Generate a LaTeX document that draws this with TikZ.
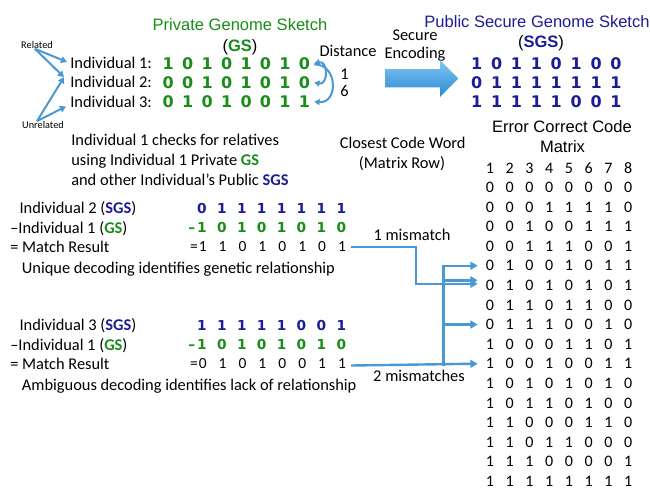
\documentclass[tikz,border=0pt]{standalone}
\usepackage{fontspec}
\setmainfont{Carlito}
\newfontfamily\arialfont{Liberation Sans}
\newfontfamily\bitfont{DejaVu Sans}
\usetikzlibrary{arrows.meta,calc}

\definecolor{gsgreen}{RGB}{25,140,25}
\definecolor{sgsblue}{RGB}{28,28,150}
\definecolor{linkblue}{RGB}{74,152,212}

\tikzset{
  lbl/.style={inner sep=0pt, font=\fontsize{12.3}{15}\selectfont},
  head/.style={inner sep=0pt, font=\arialfont\fontsize{12.4}{15}\selectfont},
  tiny/.style={inner sep=0pt, font=\fontsize{7.7}{9}\selectfont},
  bigbit/.style={inner sep=0pt, font=\bitfont\bfseries\fontsize{12}{14}\selectfont},
  smallbit/.style={inner sep=0pt, font=\bitfont\bfseries\fontsize{10.3}{12}\selectfont},
  cell/.style={inner sep=0pt, font=\fontsize{12}{14}\selectfont},
  resbit/.style={inner sep=0pt, font=\fontsize{11.6}{13}\selectfont},
  link/.style={draw=linkblue, line width=1.8pt, -{Triangle[length=5.5pt,width=6pt]}},
  pointer/.style={draw=linkblue, line width=1.5pt, -{Triangle[length=4.5pt,width=5pt]}},
}

\begin{document}
\begin{tikzpicture}[x=0.75pt,y=-0.75pt]
\useasboundingbox (0,0) rectangle (650,489);

% private sketch
\node[head, anchor=base, text=gsgreen] (gs-title) at (240,31) {Private Genome Sketch};
\node[head, anchor=base] (gs-tag) at (240,51) {(\textcolor{gsgreen}{\textbf{GS}})};
\foreach \bits [count=\k] in {{1,0,1,0,1,0,1,0},{0,0,1,0,1,0,1,0},{0,1,0,1,0,0,1,1}} {
  \node[lbl, anchor=base west] (ind\k) at (70,{68.6+19.2*(\k-1)}) {Individual \k:};
  \foreach \b [count=\j] in \bits
    \node[bigbit, text=gsgreen] (g\k-\j) at ({168.3+19.45*(\j-1)},{63.3+19.2*(\k-1)}) {\b};
}

\node[tiny] (rel) at (37,45) {Related};
\node[tiny] (unrel) at (43,125) {Unrelated};
\draw[pointer] ($(rel.south)+(-2,0)$) -- ($(ind1.west)+(-3,-1)$);
\draw[pointer] ($(rel.south)+(-2,0)$) -- ($(ind2.north west)+(-6,1)$);
\draw[pointer] ($(unrel.north)+(-6,0)$) -- ($(ind2.north west)+(-6,1)$);
\draw[pointer] ($(unrel.north)+(-6,0)$) -- ($(ind3.south west)+(-4,-1)$);

% distances
\node[lbl, anchor=base] (dist) at (348,56.3) {Distance};
\node[lbl, anchor=base west] (d12) at (340,79.3) {1};
\node[lbl, anchor=base west] (d13) at (340,96) {6};
\draw[pointer, {Triangle[length=4pt,width=4.5pt]}-{Triangle[length=4pt,width=4.5pt]}]
  ($(g1-8.east)+(4,0)$) .. controls +(14,-3) and +(14,3) .. ($(g2-8.east)+(4,0)$);
\draw[pointer, -{Triangle[length=4pt,width=4.5pt]}]
  ($(g1-8.east)+(4,1)$) .. controls +(24,0) and +(24,2) .. ($(g3-8.east)+(4,0)$);

% encoding
\node[lbl, anchor=base] (sec) at (415,40.3) {Secure};
\node[lbl, anchor=base] (enc) at (415,58.6) {Encoding};
\shade[top color={rgb,255:red,135;green,198;blue,242}, bottom color={rgb,255:red,38;green,136;blue,212}]
  (385,69) -- (440,69) -- (440,60) -- (458.3,78.5) -- (440,97) -- (440,87.3) -- (385,87.3) -- cycle;

% public sketch
\node[head, anchor=base, text=sgsblue] (sgs-title) at (537,27.6) {Public Secure Genome Sketch};
\node[head, anchor=base] (sgs-tag) at (541,47.6) {(\textcolor{sgsblue}{\textbf{SGS}})};
\foreach \bits [count=\k] in {{1,0,1,1,0,1,0,0},{0,1,1,1,1,1,1,1},{1,1,1,1,1,0,0,1}}
  \foreach \b [count=\j] in \bits
    \node[bigbit, text=sgsblue] (s\k-\j) at ({476.7+19.9*(\j-1)},{63.3+19.2*(\k-1)}) {\b};

% code matrix
\node[head, anchor=base] (ecc) at (562,132.6) {Error Correct Code};
\node[head, anchor=base] (ecc2) at (562.5,152) {Matrix};
\foreach \j in {1,...,8}
  \node[cell] (h-\j) at ({490+19.75*(\j-1)},168.3) {\j};
\foreach \bits [count=\k] in {{0,0,0,0,0,0,0,0},{0,0,0,1,1,1,1,0},{0,0,1,0,0,1,1,1},{0,0,1,1,1,0,0,1},
    {0,1,0,0,1,0,1,1},{0,1,0,1,0,1,0,1},{0,1,1,0,1,1,0,0},{0,1,1,1,0,0,1,0},
    {1,0,0,0,1,1,0,1},{1,0,0,1,0,0,1,1},{1,0,1,0,1,0,1,0},{1,0,1,1,0,1,0,0},
    {1,1,0,0,0,1,1,0},{1,1,0,1,1,0,0,0},{1,1,1,0,0,0,0,1},{1,1,1,1,1,1,1,1}}
  \foreach \b [count=\j] in \bits
    \node[cell] (m-\k-\j) at ({490+19.75*(\j-1)},{187.3+19.6*(\k-1)}) {\b};

\node[lbl, anchor=base] (closest) at (402.7,148.6) {Closest Code Word};
\node[lbl, anchor=base] (closest2) at (402,168.6) {(Matrix Row)};

% checking
\node[lbl, anchor=base west] (note1) at (71,145.3) {Individual 1 checks for relatives};
\node[lbl, anchor=base west] (note2) at (71,165.3) {using Individual 1 Private \textcolor{gsgreen}{\textbf{GS}}};
\node[lbl, anchor=base west] (note3) at (71,185.3) {and other Individual’s Public \textcolor{sgsblue}{\textbf{SGS}}};

\foreach \who/\sgsbits/\resbits/\yy/\msg [count=\n] in {
    2/{0,1,1,1,1,1,1,1}/{1,1,0,1,0,1,0,1}/208.3/Unique decoding identifies genetic relationship,
    3/{1,1,1,1,1,0,0,1}/{0,1,0,1,0,0,1,1}/325/Ambiguous decoding identifies lack of relationship} {
  \node[lbl, anchor=base west] (b\n-l1) at (19.3,\yy+5.3) {Individual \who\ (\textcolor{sgsblue}{\textbf{SGS}})};
  \node[lbl, anchor=base west] (b\n-l2) at (10,\yy+25.5) {–Individual 1 (\textcolor{gsgreen}{\textbf{GS}})};
  \node[lbl, anchor=base west] (b\n-l3) at (10,\yy+44.5) {= Match Result};
  \node[lbl, anchor=base west] (b\n-l4) at (21.7,\yy+65) {\msg};
  \foreach \b [count=\j] in \sgsbits
    \node[smallbit, text=sgsblue] (b\n-s-\j) at ({202+19.9*(\j-1)},\yy) {\b};
  \node[smallbit, text=gsgreen, anchor=base] (b\n-minus) at (191.7,\yy+24.5) {–};
  \foreach \b [count=\j] in {1,0,1,0,1,0,1,0}
    \node[smallbit, text=gsgreen] (b\n-g-\j) at ({202+19.9*(\j-1)},\yy+19.5) {\b};
  \node[resbit, anchor=base] (b\n-eq) at (194,\yy+43.6) {=};
  \foreach \b [count=\j] in \resbits
    \node[resbit] (b\n-r-\j) at ({202.7+19.9*(\j-1)},\yy+38.7) {\b};
}

% decoding
\coordinate (hub1) at (415.7,247);
\coordinate (hub2) at (443.3,365.5);
\draw[link] ($(b1-r-8.east |- hub1)+(5,0)$) -- (hub1) |- ($(m-6-1.west)+(-8,-1.5)$);
\draw[link] ($(b2-r-8.east |- hub2)+(5,0)$) -- ($(m-10-1.west)+(-8,0)$);
\draw[link] (hub2) |- ($(m-5-1.west)+(-8,0)$);
\draw[link] (hub2) |- ($(m-6-1.west)+(-8,-5)$);
\draw[link] (hub2) |- ($(m-8-1.west)+(-8,0)$);
\node[lbl, anchor=base] (one-miss) at (412,240.3) {1 mismatch};
\node[lbl, anchor=base] (two-miss) at (419,381.3) {2 mismatches};
\end{tikzpicture}
\end{document}
